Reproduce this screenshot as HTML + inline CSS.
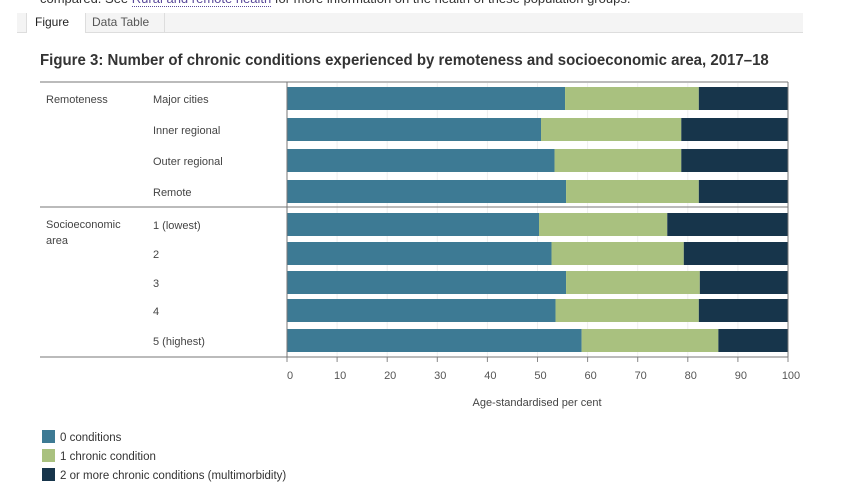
<!DOCTYPE html>
<html><head><meta charset="utf-8"><style>
body{margin:0;width:863px;height:501px;background:#fff;overflow:hidden;font-family:"Liberation Sans",sans-serif;position:relative}
.t{position:absolute;white-space:nowrap}
</style></head><body>
<div class="t" style="left:40px;top:-9px;font-size:13px;color:#333">compared. See <span style="color:#5a4a9a;border-bottom:1px dotted #5a4a9a">Rural and remote health</span> for more information on the health of these population groups.</div>
<div style="position:absolute;left:17px;top:13px;width:786px;height:19px;background:#f4f4f4;border-bottom:1px solid #ddd"></div>
<div class="t" style="left:26px;top:13px;height:20px;width:50px;padding:0 0 0 8px;background:#fff;border-left:1px solid #ddd;border-right:1px solid #ddd;font-size:12px;line-height:19px;color:#222">Figure</div>
<div class="t" style="left:86px;top:13px;height:19px;width:72px;padding:0 0 0 6px;border-right:1px solid #ddd;font-size:12px;line-height:19px;color:#555">Data Table</div>
<div class="t" style="left:40px;top:52px;font-size:15.5px;font-weight:bold;color:#333;transform:scaleX(0.968);transform-origin:left">Figure 3: Number of chronic conditions experienced by remoteness and socioeconomic area, 2017–18</div>
<svg id="c" width="863" height="501" style="position:absolute;left:0;top:0"></svg>
<script>
const categories=["Major cities","Inner regional","Outer regional","Remote","1 (lowest)","2","3","4","5 (highest)"];
const zeroConditions=[55.5,50.7,53.4,55.7,50.3,52.8,55.7,53.6,58.8];
const oneCondition=[26.7,28.0,25.3,26.5,25.6,26.4,26.7,28.6,27.3];
const twoPlus=[17.8,21.3,21.3,17.8,24.1,20.8,17.6,17.8,13.9];
const ticks=[0,10,20,30,40,50,60,70,80,90,100];
const rowTops=[87,118,149,180,213,242,271,299,329];
const NS='http://www.w3.org/2000/svg';
const svg=document.getElementById('c');
const x=v=>287+v*5.01;
function mk(t,a){const e=document.createElementNS(NS,t);for(const k in a)e.setAttribute(k,a[k]);svg.appendChild(e);return e;}
ticks.forEach(t=>{const g=mk('line',{x1:x(t),x2:x(t),y1:83,y2:360,stroke:'#eee'});


const l=mk('text',{x:x(t)+3,y:379,'text-anchor':'middle','font-size':11,fill:'#555'});l.textContent=t;


const tk=mk('line',{x1:x(t),x2:x(t),y1:357,y2:362,stroke:'#888'});

});
const cols=['#3d7a94','#a9c17f','#17354b'];
categories.forEach((c,i)=>{let s=0;const y=rowTops[i];
[zeroConditions[i],oneCondition[i],twoPlus[i]].forEach((v,j)=>{const r=mk('rect',{x:x(s),y:y,width:x(s+v)-x(s),height:23,fill:cols[j]});

s+=v;});
const l=mk('text',{x:153,y:y+16,'font-size':11,fill:'#444'});l.textContent=c;

});
[[40,82,788,82],[40,207,788,207],[40,357,788,357],[287,82,287,357],[788,82,788,357]].forEach(a=>{const l=mk('line',{x1:a[0],y1:a[1],x2:a[2],y2:a[3],stroke:'#777'});

});
[['Remoteness',103],['Socioeconomic',228],['area',244]].forEach(a=>{const l=mk('text',{x:46,y:a[1],'font-size':11,fill:'#444'});l.textContent=a[0];

});
const at=mk('text',{x:537,y:406,'text-anchor':'middle','font-size':11,fill:'#444'});at.textContent='Age-standardised per cent';


['0 conditions','1 chronic condition','2 or more chronic conditions (multimorbidity)'].forEach((t,i)=>{const r=mk('rect',{x:42,y:430+i*19,width:13,height:13,fill:cols[i]});


const l=mk('text',{x:60,y:441+i*19,'font-size':11.5,fill:'#333'});l.textContent=t;

});
</script>
</body></html>
